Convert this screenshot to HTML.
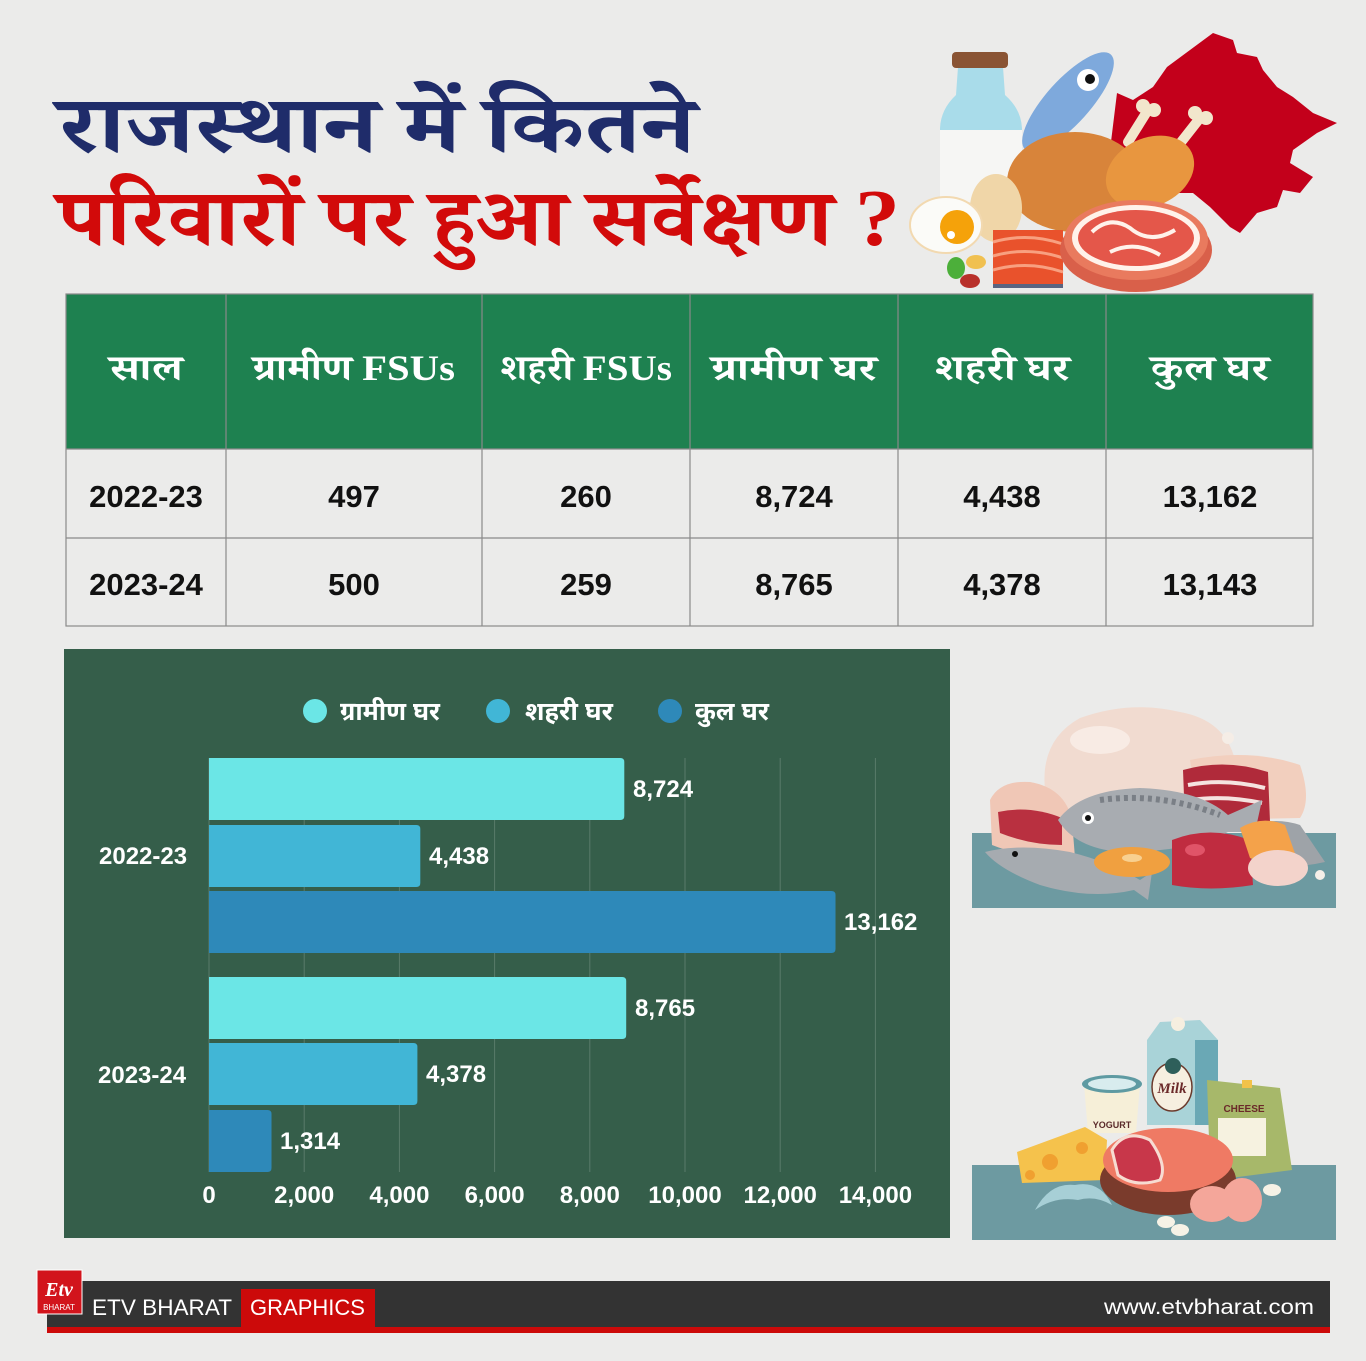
<!DOCTYPE html>
<html lang="hi">
<head>
<meta charset="utf-8">
<style>
html,body{margin:0;padding:0;background:#ebebea;}
svg{display:block;}
.dv{font-family:"Liberation Serif","Noto Serif Devanagari","Noto Sans Devanagari","Lohit Devanagari","FreeSerif","Noto Sans CJK SC",serif;font-weight:bold;}
.dvs{font-family:"Liberation Sans","Noto Sans Devanagari","Lohit Devanagari","FreeSans","Noto Sans CJK SC",sans-serif;font-weight:bold;}
.num{font-family:"Liberation Sans",Arial,sans-serif;font-weight:bold;}
</style>
</head>
<body>
<svg width="1366" height="1361" viewBox="0 0 1366 1361" xmlns="http://www.w3.org/2000/svg">
  <rect x="0" y="0" width="1366" height="1361" fill="#ebebea"/>

  <!-- ============ TOP RIGHT ILLUSTRATION ============ -->
  <!-- Rajasthan map -->
  <polygon fill="#c3001b" points="1117,93 1133,100 1153,87 1167,67 1190,50 1213,33 1233,40 1237,53 1257,57 1263,70 1277,87 1293,97 1313,113 1337,123 1317,133 1293,150 1290,163 1313,177 1300,193 1283,190 1277,207 1257,213 1240,233 1230,227 1210,207 1193,193 1167,193 1140,180 1110,150"/>
  <!-- milk bottle -->
  <path d="M958,67 L1003,67 L1005,95 Q1022,110 1022,130 L1022,200 L940,200 L940,130 Q940,110 956,95 Z" fill="#a9dcea"/>
  <rect x="940" y="130" width="82" height="72" fill="#f6f6f4"/>
  <rect x="952" y="52" width="56" height="16" rx="4" fill="#8a5434"/>
  <!-- fish -->
  <ellipse cx="1068" cy="102" rx="64" ry="22" transform="rotate(-48 1068 102)" fill="#7ea9dc"/>
  <circle cx="1088" cy="80" r="11" fill="#ffffff"/>
  <circle cx="1090" cy="79" r="5" fill="#111"/>
  <!-- roast chicken -->
  <ellipse cx="1075" cy="182" rx="68" ry="50" fill="#d8843a"/>
  <line x1="1128" y1="142" x2="1148" y2="110" stroke="#f2e6cc" stroke-width="10" stroke-linecap="round"/>
  <circle cx="1143" cy="106" r="7" fill="#f2e6cc"/><circle cx="1154" cy="110" r="7" fill="#f2e6cc"/>
  <line x1="1178" y1="146" x2="1200" y2="118" stroke="#f2e6cc" stroke-width="10" stroke-linecap="round"/>
  <circle cx="1195" cy="113" r="7" fill="#f2e6cc"/><circle cx="1206" cy="118" r="7" fill="#f2e6cc"/>
  <ellipse cx="1150" cy="172" rx="46" ry="34" transform="rotate(-25 1150 172)" fill="#e8963f"/>
  <!-- brown egg -->
  <ellipse cx="996" cy="208" rx="26" ry="34" fill="#f0d6a8"/>
  <!-- fried egg -->
  <ellipse cx="946" cy="225" rx="36" ry="28" fill="#fbfbf8" stroke="#f2d9b0" stroke-width="2"/>
  <circle cx="957" cy="227" r="17" fill="#f5a20a"/>
  <circle cx="951" cy="235" r="4" fill="#fff"/>
  <!-- beans -->
  <ellipse cx="956" cy="268" rx="9" ry="11" fill="#4caf3a"/>
  <ellipse cx="976" cy="262" rx="10" ry="7" fill="#f0c050"/>
  <ellipse cx="970" cy="281" rx="10" ry="7" fill="#b8302a"/>
  <!-- salmon -->
  <rect x="993" y="230" width="70" height="54" fill="#e9522c"/>
  <path d="M993,242 Q1028,232 1063,244 M993,256 Q1028,246 1063,258 M993,270 Q1028,260 1063,272" stroke="#f8a080" stroke-width="3" fill="none"/>
  <rect x="993" y="284" width="70" height="4" fill="#5a6480"/>
  <!-- steak -->
  <ellipse cx="1136" cy="250" rx="76" ry="42" fill="#d9604a"/>
  <ellipse cx="1136" cy="240" rx="72" ry="40" fill="#e97a5e"/>
  <ellipse cx="1136" cy="238" rx="64" ry="33" fill="#fff2ea"/>
  <ellipse cx="1136" cy="238" rx="58" ry="28" fill="#e4574a"/>
  <path d="M1092,232 Q1110,215 1130,228 Q1150,245 1175,230 M1110,252 Q1135,240 1160,255" stroke="#fff2ea" stroke-width="4" fill="none"/>

  <!-- ============ TITLE ============ -->
  <text class="dv" x="58" y="152" font-size="80" fill="#1f2c6a" textLength="637" lengthAdjust="spacingAndGlyphs">राजस्थान में कितने</text>
  <text class="dv" x="58" y="245" font-size="80" fill="#d20a0a" textLength="842" lengthAdjust="spacingAndGlyphs">परिवारों पर हुआ सर्वेक्षण ?</text>

  <!-- ============ TABLE ============ -->
  <rect x="66" y="294" width="1247" height="155" fill="#1e8150"/>
  <g stroke="#8a8a8a" stroke-width="1.2" fill="none">
    <rect x="66" y="294" width="1247" height="332"/>
    <line x1="66" y1="449" x2="1313" y2="449"/>
    <line x1="66" y1="538" x2="1313" y2="538"/>
    <line x1="226" y1="294" x2="226" y2="626"/>
    <line x1="482" y1="294" x2="482" y2="626"/>
    <line x1="690" y1="294" x2="690" y2="626"/>
    <line x1="898" y1="294" x2="898" y2="626"/>
    <line x1="1106" y1="294" x2="1106" y2="626"/>
  </g>
  <g class="dv" font-size="36" fill="#ffffff" text-anchor="middle">
    <text x="146" y="380" textLength="73" lengthAdjust="spacingAndGlyphs">साल</text>
    <text x="354" y="380" textLength="202" lengthAdjust="spacingAndGlyphs">ग्रामीण FSUs</text>
    <text x="586" y="380" textLength="172" lengthAdjust="spacingAndGlyphs">शहरी FSUs</text>
    <text x="794" y="380" textLength="165" lengthAdjust="spacingAndGlyphs">ग्रामीण घर</text>
    <text x="1002" y="380" textLength="135" lengthAdjust="spacingAndGlyphs">शहरी घर</text>
    <text x="1210" y="380" textLength="118" lengthAdjust="spacingAndGlyphs">कुल घर</text>
  </g>
  <g class="num" font-size="31" fill="#111111" text-anchor="middle">
    <text x="146" y="507">2022-23</text>
    <text x="354" y="507">497</text>
    <text x="586" y="507">260</text>
    <text x="794" y="507">8,724</text>
    <text x="1002" y="507">4,438</text>
    <text x="1210" y="507">13,162</text>
    <text x="146" y="595">2023-24</text>
    <text x="354" y="595">500</text>
    <text x="586" y="595">259</text>
    <text x="794" y="595">8,765</text>
    <text x="1002" y="595">4,378</text>
    <text x="1210" y="595">13,143</text>
  </g>

  <!-- ============ CHART ============ -->
  <rect x="64" y="649" width="886" height="589" fill="#355e4a"/>
  <!-- legend -->
  <circle cx="315" cy="711" r="12" fill="#6be6e6"/>
  <circle cx="498" cy="711" r="12" fill="#41b6d6"/>
  <circle cx="670" cy="711" r="12" fill="#2e89b9"/>
  <g class="dvs" font-size="26" fill="#ffffff">
    <text x="340" y="720" textLength="100" lengthAdjust="spacingAndGlyphs">ग्रामीण घर</text>
    <text x="525" y="720" textLength="88" lengthAdjust="spacingAndGlyphs">शहरी घर</text>
    <text x="695" y="720" textLength="74" lengthAdjust="spacingAndGlyphs">कुल घर</text>
  </g>
  <!-- gridlines -->
  <g stroke="#ffffff" stroke-opacity="0.18" stroke-width="1">
    <line x1="209" y1="758" x2="209" y2="1172"/>
    <line x1="304.2" y1="758" x2="304.2" y2="1172"/>
    <line x1="399.4" y1="758" x2="399.4" y2="1172"/>
    <line x1="494.6" y1="758" x2="494.6" y2="1172"/>
    <line x1="589.8" y1="758" x2="589.8" y2="1172"/>
    <line x1="685" y1="758" x2="685" y2="1172"/>
    <line x1="780.2" y1="758" x2="780.2" y2="1172"/>
    <line x1="875.4" y1="758" x2="875.4" y2="1172"/>
  </g>
  <!-- bars -->
  <path d="M209,758 H620.3 Q624.3,758 624.3,762 V816 Q624.3,820 620.3,820 H209 Z" fill="#6be6e6"/>
  <path d="M209,825 H416.3 Q420.3,825 420.3,829 V883 Q420.3,887 416.3,887 H209 Z" fill="#41b6d6"/>
  <path d="M209,891 H831.5 Q835.5,891 835.5,895 V949 Q835.5,953 831.5,953 H209 Z" fill="#2e89b9"/>
  <path d="M209,977 H622.2 Q626.2,977 626.2,981 V1035 Q626.2,1039 622.2,1039 H209 Z" fill="#6be6e6"/>
  <path d="M209,1043 H413.4 Q417.4,1043 417.4,1047 V1101 Q417.4,1105 413.4,1105 H209 Z" fill="#41b6d6"/>
  <path d="M209,1110 H267.5 Q271.5,1110 271.5,1114 V1168 Q271.5,1172 267.5,1172 H209 Z" fill="#2e89b9"/>
  <!-- value labels -->
  <g class="num" font-size="24" fill="#ffffff">
    <text x="633" y="797">8,724</text>
    <text x="429" y="864">4,438</text>
    <text x="844" y="930">13,162</text>
    <text x="635" y="1016">8,765</text>
    <text x="426" y="1082">4,378</text>
    <text x="280" y="1149">1,314</text>
  </g>
  <!-- category labels -->
  <g class="num" font-size="24" fill="#ffffff">
    <text x="99" y="864">2022-23</text>
    <text x="98" y="1083">2023-24</text>
  </g>
  <!-- axis ticks -->
  <g class="num" font-size="24" fill="#ffffff" text-anchor="middle">
    <text x="209" y="1203">0</text>
    <text x="304.2" y="1203">2,000</text>
    <text x="399.4" y="1203">4,000</text>
    <text x="494.6" y="1203">6,000</text>
    <text x="589.8" y="1203">8,000</text>
    <text x="685" y="1203">10,000</text>
    <text x="780.2" y="1203">12,000</text>
    <text x="875.4" y="1203">14,000</text>
  </g>

  <!-- ============ MIDDLE RIGHT ILLUSTRATION (meat & fish) ============ -->
  <rect x="972" y="833" width="364" height="75" fill="#6d9aa1"/>
  <!-- raw chicken -->
  <path d="M1045,790 Q1040,740 1080,718 Q1130,700 1180,712 Q1225,720 1235,760 Q1240,795 1200,805 L1060,810 Z" fill="#f1dbd0"/>
  <ellipse cx="1100" cy="740" rx="30" ry="14" fill="#f8ebe4"/>
  <circle cx="1228" cy="738" r="6" fill="#f5ede6"/>
  <!-- pork right -->
  <path d="M1190,760 Q1250,748 1300,765 Q1312,800 1300,818 L1200,820 Z" fill="#f2cfbe"/>
  <!-- beef -->
  <path d="M1183,770 Q1225,758 1268,772 L1270,822 Q1225,830 1185,822 Z" fill="#b02a3a"/>
  <path d="M1188,785 Q1225,778 1265,788 M1190,800 Q1225,795 1262,803" stroke="#f5e3e0" stroke-width="4" fill="none"/>
  <!-- left meat -->
  <path d="M990,800 Q1000,780 1030,782 Q1065,788 1072,820 L1075,858 Q1030,860 992,845 Z" fill="#f0c7b6"/>
  <path d="M998,812 Q1030,805 1062,818 L1062,845 Q1030,845 1000,833 Z" fill="#b93040"/>
  <!-- big fish -->
  <path d="M1058,820 Q1080,790 1140,788 Q1200,790 1228,815 L1262,800 L1255,832 L1228,832 Q1190,852 1120,852 Q1075,848 1058,820 Z" fill="#a8acb1"/>
  <path d="M1100,800 Q1160,792 1220,815" stroke="#7a7f86" stroke-width="6" fill="none" stroke-dasharray="4 4"/>
  <circle cx="1088" cy="818" r="6" fill="#fff"/><circle cx="1088" cy="818" r="3" fill="#111"/>
  <!-- red meat block -->
  <path d="M1172,840 Q1210,825 1250,840 L1253,885 Q1210,892 1172,885 Z" fill="#c02c40"/>
  <ellipse cx="1195" cy="850" rx="10" ry="6" fill="#e05468"/>
  <!-- salmon right -->
  <path d="M1240,830 Q1270,815 1300,825 L1325,862 Q1290,870 1260,862 Z" fill="#9ea3a8"/>
  <path d="M1240,828 Q1262,815 1285,825 L1298,862 Q1270,866 1250,858 Z" fill="#f4a24a"/>
  <!-- drumstick -->
  <ellipse cx="1278" cy="868" rx="30" ry="18" fill="#f3d3cb"/>
  <circle cx="1320" cy="875" r="5" fill="#f6efe8"/>
  <!-- small fish -->
  <path d="M985,852 Q1020,843 1070,852 Q1110,862 1140,880 L1152,872 L1148,900 L1134,890 Q1090,900 1040,885 Q1000,870 985,852 Z" fill="#a6abb0"/>
  <circle cx="1015" cy="854" r="3" fill="#111"/>
  <!-- salmon steak -->
  <ellipse cx="1132" cy="862" rx="38" ry="15" fill="#f0a040"/>
  <ellipse cx="1132" cy="858" rx="10" ry="4" fill="#f8d090"/>

  <!-- ============ BOTTOM RIGHT ILLUSTRATION (dairy) ============ -->
  <rect x="972" y="1165" width="364" height="75" fill="#6d9aa1"/>
  <!-- milk carton -->
  <path d="M1147,1040 L1160,1022 L1200,1020 L1218,1040 L1218,1125 L1147,1125 Z" fill="#a9d3d8"/>
  <path d="M1195,1040 L1218,1040 L1218,1125 L1195,1125 Z" fill="#6aa8b5"/>
  <circle cx="1178" cy="1024" r="7" fill="#f6efe0"/>
  <ellipse cx="1172" cy="1087" rx="20" ry="24" fill="#f6efe0" stroke="#6b3a2c" stroke-width="1.5"/>
  <circle cx="1173" cy="1066" r="8" fill="#2e5f5a"/>
  <text x="1172" y="1093" font-family="Liberation Serif, serif" font-style="italic" font-weight="bold" font-size="15" fill="#6b2a2a" text-anchor="middle">Milk</text>
  <!-- yogurt -->
  <path d="M1084,1084 L1140,1084 L1136,1133 L1088,1133 Z" fill="#f6efd8"/>
  <ellipse cx="1112" cy="1084" rx="30" ry="9" fill="#5e9aa2"/>
  <ellipse cx="1112" cy="1084" rx="24" ry="6" fill="#d8ecee"/>
  <text x="1112" y="1128" font-family="Liberation Sans, sans-serif" font-weight="bold" font-size="9" fill="#5a2a2a" text-anchor="middle">YOGURT</text>
  <!-- cottage cheese bag -->
  <path d="M1207,1080 L1280,1088 L1292,1170 L1230,1178 L1210,1170 Z" fill="#a7b86a"/>
  <rect x="1218" y="1118" width="48" height="38" fill="#f6f2e0"/>
  <rect x="1242" y="1080" width="10" height="8" fill="#f2c24a"/>
  <text x="1244" y="1112" font-family="Liberation Sans, sans-serif" font-weight="bold" font-size="10" fill="#6b2a2a" text-anchor="middle">CHEESE</text>
  <!-- cheese wedge -->
  <path d="M1017,1152 L1085,1127 L1107,1140 L1105,1180 L1022,1183 Z" fill="#f5c24c"/>
  <circle cx="1050" cy="1162" r="8" fill="#f0a030"/><circle cx="1082" cy="1148" r="6" fill="#f0a030"/><circle cx="1030" cy="1175" r="5" fill="#f0a030"/>
  <!-- ham -->
  <ellipse cx="1168" cy="1180" rx="68" ry="35" fill="#7a3b2c"/>
  <ellipse cx="1168" cy="1160" rx="65" ry="32" fill="#ef7a64"/>
  <path d="M1112,1150 Q1125,1128 1150,1140 Q1168,1165 1160,1180 Q1135,1188 1118,1175 Z" fill="#c8374a" stroke="#f7dcd2" stroke-width="3"/>
  <!-- eggs -->
  <ellipse cx="1212" cy="1204" rx="22" ry="18" fill="#f4a69a"/>
  <ellipse cx="1242" cy="1200" rx="20" ry="22" fill="#f4a69a"/>
  <!-- beans -->
  <ellipse cx="1272" cy="1190" rx="9" ry="6" fill="#f6f2e6"/>
  <ellipse cx="1166" cy="1222" rx="9" ry="6" fill="#f6f2e6"/>
  <ellipse cx="1180" cy="1230" rx="9" ry="6" fill="#f6f2e6"/>
  <!-- shrimp -->
  <path d="M1035,1210 Q1050,1182 1075,1185 Q1100,1180 1112,1205 Q1095,1195 1078,1200 Q1055,1196 1035,1210 Z" fill="#a7cfd6"/>

  <!-- ============ FOOTER ============ -->
  <rect x="47" y="1326" width="1283" height="7" fill="#cc0a0a"/>
  <rect x="47" y="1281" width="1283" height="46" fill="#333333"/>
  <rect x="241" y="1289" width="134" height="38" fill="#cc0a0a"/>
  <rect x="37" y="1270" width="45" height="44" fill="#d2141c" stroke="#ffffff" stroke-width="1"/>
  <text x="59" y="1296" font-family="Liberation Serif, serif" font-style="italic" font-weight="bold" font-size="20" fill="#ffffff" text-anchor="middle">Etv</text>
  <text x="59" y="1310" font-family="Liberation Sans, sans-serif" font-size="8" fill="#ffffff" text-anchor="middle">BHARAT</text>
  <g font-family="Liberation Sans, sans-serif" font-size="22" fill="#ffffff">
    <text x="92" y="1315" textLength="140" lengthAdjust="spacingAndGlyphs">ETV BHARAT</text>
    <text x="250" y="1315" textLength="115" lengthAdjust="spacingAndGlyphs">GRAPHICS</text>
    <text x="1104" y="1314" font-size="21" textLength="210" lengthAdjust="spacingAndGlyphs">www.etvbharat.com</text>
  </g>
</svg>
</body>
</html>
